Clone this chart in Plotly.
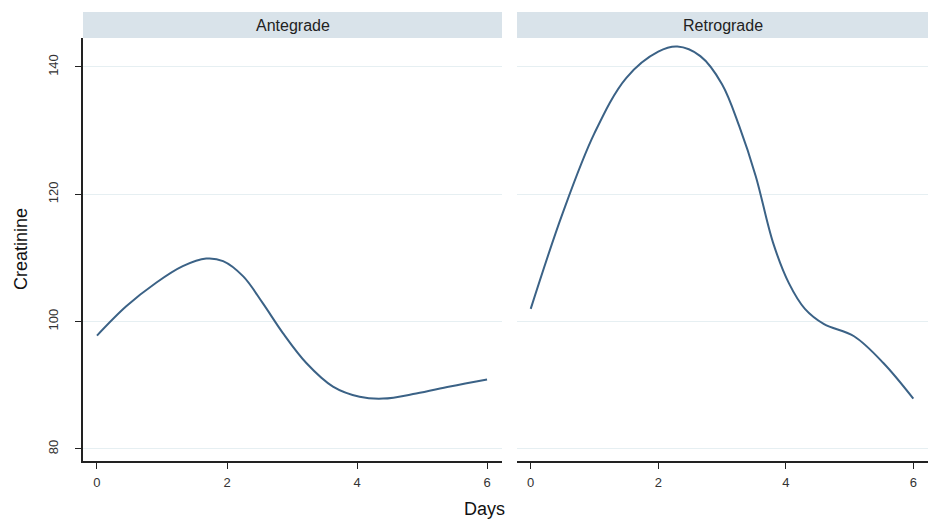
import plotly.graph_objects as go
from plotly.subplots import make_subplots

# Smoothed creatinine trajectories by approach
ante_days = [0, 0.45, 0.91, 1.32, 1.68, 1.94, 2.25, 2.55, 2.86, 3.22, 3.63, 4.04, 4.4, 4.91, 5.43, 6]
ante_creat = [97.8, 102.4, 106.1, 108.7, 109.9, 109.5, 107.1, 102.9, 98.2, 93.5, 89.8, 88.2, 87.9, 88.7, 89.8, 90.9]

retro_days = [0, 0.5, 1.0, 1.5, 2.0, 2.3, 2.66, 3.0, 3.27, 3.53, 3.8, 4.05, 4.3, 4.6, 5.07, 5.53, 6]
retro_creat = [102.0, 117.0, 129.6, 138.3, 142.4, 143.2, 141.7, 137.3, 130.7, 122.8,
               112.4, 106.0, 102.0, 99.6, 97.7, 93.5, 87.9]

panel_titles = ["Antegrade", "Retrograde"]
x_ticks = [0, 2, 4, 6]
y_ticks = [80, 100, 120, 140]

W, H = 928, 529
LINE = "#3b6286"
STRIP = "#d9e3ea"
GRID = "#e6eff2"
FONT = "Liberation Sans, Arial, sans-serif"

fig = make_subplots(rows=1, cols=2, shared_yaxes=True)

fig.add_trace(go.Scatter(x=ante_days, y=ante_creat, mode="lines",
                         line=dict(color=LINE, width=2, shape="spline", smoothing=1.0),
                         showlegend=False), row=1, col=1)
fig.add_trace(go.Scatter(x=retro_days, y=retro_creat, mode="lines",
                         line=dict(color=LINE, width=2, shape="spline", smoothing=1.0),
                         showlegend=False), row=1, col=2)

def px_x(p):
    return p / W

def px_y(p):
    return 1 - p / H

y_dom = [px_y(461), px_y(38)]
x1_dom = [px_x(83), px_x(502)]
x2_dom = [px_x(517), 1.0]

xcommon = dict(range=[-0.215, 6.23], tickvals=x_ticks, ticks="outside", ticklen=6,
               tickwidth=1.3, tickcolor="#222", showline=True, linecolor="#222", linewidth=1.6,
               showgrid=False, zeroline=False, ticklabelstandoff=3,
               tickfont=dict(family=FONT, size=13, color="#333"))
fig.update_xaxes(domain=x1_dom, anchor="y", **xcommon, row=1, col=1)
fig.update_xaxes(domain=x2_dom, anchor="y2", **xcommon, row=1, col=2)

fig.update_yaxes(domain=y_dom, range=[78.1, 144.55], tickvals=y_ticks, ticks="outside",
                 ticklen=6, tickwidth=1.3, tickcolor="#222", showline=True, linecolor="#222",
                 linewidth=1.6, showgrid=True, gridcolor=GRID, gridwidth=1.2, zeroline=False,
                 tickangle=-90, ticklabelstandoff=12,
                 tickfont=dict(family=FONT, size=13, color="#333"), row=1, col=1)
fig.update_yaxes(domain=y_dom, range=[78.1, 144.55], tickvals=y_ticks, showline=False,
                 ticks="", showticklabels=False, showgrid=True, gridcolor=GRID, gridwidth=1.2,
                 zeroline=False, row=1, col=2)

# Panel header strips
for dom, title in zip([x1_dom, x2_dom], panel_titles):
    fig.add_shape(type="rect", xref="paper", yref="paper",
                  x0=dom[0], x1=dom[1], y0=px_y(38), y1=px_y(12),
                  fillcolor=STRIP, line=dict(width=0), layer="below")
    fig.add_annotation(xref="paper", yref="paper", x=(dom[0] + dom[1]) / 2, y=px_y(25),
                       text=title, showarrow=False, xanchor="center", yanchor="middle",
                       font=dict(family=FONT, size=16, color="#222"))

fig.add_annotation(xref="paper", yref="paper", x=px_x(484), y=px_y(509), text="Days",
                   showarrow=False, xanchor="center", yanchor="middle",
                   font=dict(family=FONT, size=18, color="#111"))
fig.add_annotation(xref="paper", yref="paper", x=px_x(21), y=px_y(249), text="Creatinine",
                   showarrow=False, textangle=-90, xanchor="center", yanchor="middle",
                   font=dict(family=FONT, size=18, color="#111"))

fig.update_layout(width=W, height=H, margin=dict(l=0, r=0, t=0, b=0),
                  paper_bgcolor="white", plot_bgcolor="white")

fig.write_html("out.html")
